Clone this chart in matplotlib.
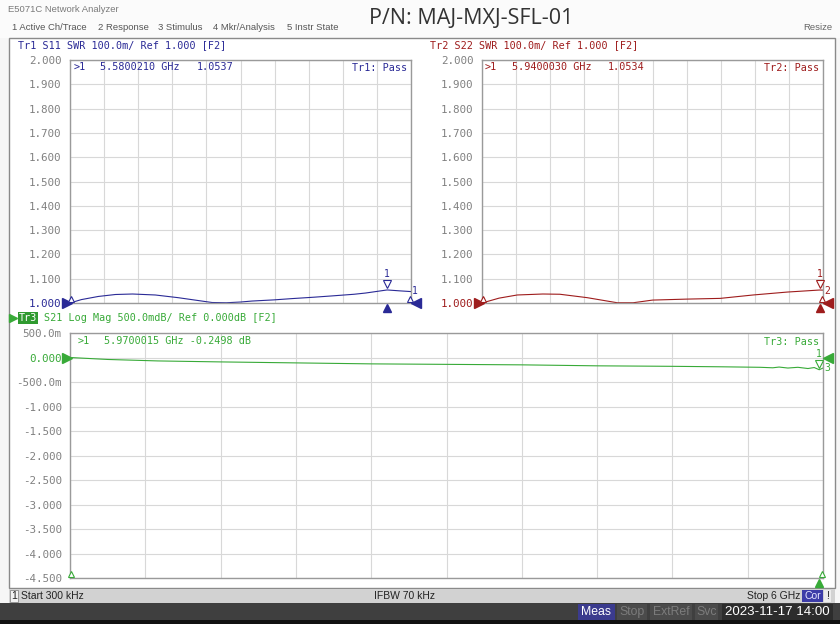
"""
E5071C network analyzer screen: S11 / S22 SWR and S21 log-mag traces
"""

import matplotlib

matplotlib.use('Agg')

import matplotlib.pyplot as plt
import numpy as np
from matplotlib.patches import Rectangle
from matplotlib.transforms import offset_copy

# --- trace data (frequency in GHz) ---
s11_freq = [0.0003, 0.2, 0.5, 0.8, 1.1, 1.5, 1.9, 2.2, 2.5, 2.75, 3.0, 3.2,
            3.6, 3.9, 4.3, 4.6, 5.0, 5.2, 5.58, 5.8, 6.0]
s11_swr = [1.000, 1.014, 1.027, 1.035, 1.037, 1.033, 1.022, 1.012, 1.002, 1.001,
           1.004, 1.008, 1.013, 1.018, 1.024, 1.029, 1.036, 1.041, 1.0537, 1.050, 1.047]

s22_freq = [0.0003, 0.3, 0.62, 1.07, 1.37, 1.85, 2.38, 2.66, 3.0, 3.6, 4.19,
            4.77, 5.37, 5.94, 6.0]
s22_swr = [1.000, 1.020, 1.033, 1.037, 1.036, 1.022, 1.001, 1.001, 1.012, 1.016,
           1.019, 1.033, 1.045, 1.0534, 1.053]

s21_freq = [0.0003, 0.3, 0.7, 1.2, 1.8, 2.4, 3.0, 3.6, 4.2, 4.8, 5.2, 5.5, 5.6,
            5.65, 5.72, 5.8, 5.88, 5.93, 5.97, 6.0]
s21_db = [0.0, -0.04, -0.07, -0.09, -0.11, -0.13, -0.14, -0.15, -0.17, -0.18,
          -0.19, -0.20, -0.21, -0.195, -0.215, -0.20, -0.225, -0.205, -0.2498, -0.215]

swr_ticks = [2.0, 1.9, 1.8, 1.7, 1.6, 1.5, 1.4, 1.3, 1.2, 1.1, 1.0]
swr_labels = ['2.000', '1.900', '1.800', '1.700', '1.600', '1.500',
              '1.400', '1.300', '1.200', '1.100', '1.000']
db_ticks = [0.5, 0.0, -0.5, -1.0, -1.5, -2.0, -2.5, -3.0, -3.5, -4.0, -4.5]
db_labels = ['500.0m', '0.000', '-500.0m', '-1.000', '-1.500', '-2.000',
             '-2.500', '-3.000', '-3.500', '-4.000', '-4.500']

mk1 = (5.5800210, 1.0537)
mk2 = (5.9400030, 1.0534)
mk3 = (5.9700015, -0.2498)

C1 = '#2a2a96'
C2 = '#9e1c1c'
C3 = '#38aa38'
MONO = 'DejaVu Sans Mono'
UI = 'Liberation Sans'

W, H = 840, 624
fig = plt.figure(figsize=(8.4, 6.24), dpi=100)
fig.patch.set_facecolor('#f6f6f6')

bg = fig.add_axes([0, 0, 1, 1])
bg.set_xlim(0, W)
bg.set_ylim(H, 0)
bg.axis('off')


def px_axes(x0, y0, x1, y1):
    return fig.add_axes([x0 / W, 1 - y1 / H, (x1 - x0) / W, (y1 - y0) / H])


def rect(a, x, y, w, h, fc, ec='none', lw=0.8):
    a.add_patch(Rectangle((x, y), w, h, facecolor=fc, edgecolor=ec, linewidth=lw))


def txt(a, x, y, s, color='#555555', size=7, family=UI, ha='left', **kw):
    a.text(x, y, s, color=color, fontsize=size, family=family, ha=ha, va='center', **kw)


# header
rect(bg, 0, 0, W, 38, '#fbfbfb')
txt(bg, 8, 9, 'E5071C Network Analyzer', color='#7a7a7a', size=6.8)
for x, s in [(12, '1 Active Ch/Trace'), (98, '2 Response'), (158, '3 Stimulus'),
             (213, '4 Mkr/Analysis'), (287, '5 Instr State')]:
    txt(bg, x, 27, s, color='#555555', size=6.8)
txt(bg, 369, 19, 'P/N: MAJ-MXJ-SFL-01', color='#333333', size=15.5, family='Open Sans')
txt(bg, 832, 28, 'Resize', color='#666666', size=6.8, ha='right')

# frame of the measurement area
rect(bg, 9, 38, 826, 550, 'white', ec='#8a8a8a', lw=1.0)

# status bar
rect(bg, 9, 589, 826, 14, '#d2d2d2')
rect(bg, 10, 590, 8, 12, '#f2f2f2', ec='#8a8a8a', lw=0.6)
txt(bg, 14, 596, '1', color='#222222', size=7.5, ha='center')
txt(bg, 21, 596, 'Start 300 kHz', color='#222222', size=7.5)
txt(bg, 405, 596, 'IFBW 70 kHz', color='#222222', size=7.5, ha='center')
txt(bg, 800, 596, 'Stop 6 GHz', color='#222222', size=7.5, ha='right')
rect(bg, 802, 590, 21, 12, '#3c3ca8')
txt(bg, 812.5, 596, 'Cor', color='#e6e6ff', size=7.5, ha='center')
rect(bg, 824, 590, 7, 12, '#ececec')
txt(bg, 827.5, 596, '!', color='#222222', size=7.5, ha='center')

# bottom bar
rect(bg, 0, 603, W, 21, '#3f3f3f')
rect(bg, 0, 620, W, 4, '#111111')
for x0, x1, s, fc, tc in [(578, 615, 'Meas', '#3b3b8e', 'white'),
                          (617, 647, 'Stop', '#4b4b4b', '#7c7c7c'),
                          (650, 692, 'ExtRef', '#4b4b4b', '#7c7c7c'),
                          (695, 718, 'Svc', '#4b4b4b', '#7c7c7c')]:
    rect(bg, x0, 604, x1 - x0, 16, fc)
    txt(bg, (x0 + x1) / 2, 612, s, color=tc, size=8.8, ha='center')
rect(bg, 722, 604, 111, 16, '#2c2c2c')
txt(bg, 777, 612, '2023-11-17 14:00', color='white', size=9.6, ha='center')

# trace titles
txt(bg, 18, 45, 'Tr1 S11 SWR 100.0m/ Ref 1.000 [F2]', color=C1, size=7.3, family=MONO)
txt(bg, 430, 45, 'Tr2 S22 SWR 100.0m/ Ref 1.000 [F2]', color=C2, size=7.3, family=MONO)
bg.plot(13, 318, marker='>', ms=6, color=C3)
rect(bg, 18, 312, 20, 12, '#2f9a2f')
txt(bg, 28, 318, 'Tr3', color='white', size=7.3, family=MONO, ha='center')
txt(bg, 44, 318, 'S21 Log Mag 500.0mdB/ Ref 0.000dB [F2]', color=C3, size=7.3, family=MONO)


def setup(ax, ylim, ticks, labels, ref, color):
    ax.set_facecolor('white')
    ax.set_xlim(0, 6)
    ax.set_ylim(*ylim)
    ax.set_xticks(np.linspace(0, 6, 11))
    ax.set_yticks(ticks)
    ax.set_yticklabels(labels, family=MONO, fontsize=7.8, color='#808080')
    for lab, t in zip(ax.get_yticklabels(), ticks):
        if abs(t - ref) < 1e-9:
            lab.set_color(color)
    ax.tick_params(length=0, labelbottom=False, pad=6)
    ax.grid(color='#d8d8d8', lw=0.8)
    for sp in ax.spines.values():
        sp.set_color('#9a9a9a')
        sp.set_linewidth(1.0)


def off(ax, dx, dy):
    return offset_copy(ax.transData, fig=fig, x=dx, y=dy, units='dots')


def edge_marks(ax, color, ref, mk, ymin, tr_lab, lab_dy):
    ax.plot(0.0003, ref, marker='>', ms=7, color=color, clip_on=False,
            transform=off(ax, -3, 0), zorder=6)
    ax.plot(0.0003, ref if ymin is None else ymin, marker='^', ms=4.5, mfc='white',
            mec=color, mew=0.8, clip_on=False, transform=off(ax, 1, 4), zorder=6)
    ax.plot(6, ref, marker='<', ms=7, color=color, clip_on=False,
            transform=off(ax, 5, 0), zorder=6)
    ax.text(6, ref, tr_lab, color=color, fontsize=7, family=MONO, ha='center',
            va='center', transform=off(ax, 4, lab_dy), clip_on=False)
    # active marker
    ax.plot(*mk, marker='v', ms=6, mfc='white', mec=color, mew=0.8, clip_on=False,
            transform=off(ax, 0, 6), zorder=6)
    ax.text(*mk, '1', color=color, fontsize=7, family=MONO, ha='center', va='center',
            transform=off(ax, 0, 16), clip_on=False)


ax1 = px_axes(70, 60, 411, 303)
setup(ax1, (1.0, 2.0), swr_ticks, swr_labels, 1.0, C1)
ax1.plot(s11_freq, s11_swr, color=C1, lw=0.8, clip_on=False)
edge_marks(ax1, C1, 1.0, mk1, None, '1', 12)
ax1.plot(6, 1.0, marker='^', ms=4.5, mfc='white', mec=C1, mew=0.8, clip_on=False,
         transform=off(ax1, -1, 4), zorder=6)
ax1.plot(mk1[0], 1.0, marker='^', ms=6, color=C1, clip_on=False,
         transform=off(ax1, 0, -5), zorder=6)

ax2 = px_axes(482, 60, 823, 303)
setup(ax2, (1.0, 2.0), swr_ticks, swr_labels, 1.0, C2)
ax2.plot(s22_freq, s22_swr, color=C2, lw=0.8, clip_on=False)
edge_marks(ax2, C2, 1.0, mk2, None, '2', 12)
ax2.plot(6, 1.0, marker='^', ms=4.5, mfc='white', mec=C2, mew=0.8, clip_on=False,
         transform=off(ax2, -1, 4), zorder=6)
ax2.plot(mk2[0], 1.0, marker='^', ms=6, color=C2, clip_on=False,
         transform=off(ax2, 0, -5), zorder=6)

ax3 = px_axes(70, 333, 823, 578)
setup(ax3, (-4.5, 0.5), db_ticks, db_labels, 0.0, C3)
ax3.plot(s21_freq, s21_db, color=C3, lw=0.8, clip_on=False)
edge_marks(ax3, C3, 0.0, mk3, -4.5, '3', -10)
ax3.plot(6, -4.5, marker='^', ms=4.5, mfc='white', mec=C3, mew=0.8, clip_on=False,
         transform=off(ax3, -1, 4), zorder=6)
ax3.plot(mk3[0], -4.5, marker='^', ms=6, color=C3, clip_on=False,
         transform=off(ax3, 0, -5), zorder=6)

# marker readouts on top of the plots
top = fig.add_axes([0, 0, 1, 1])
top.set_xlim(0, W)
top.set_ylim(H, 0)
top.axis('off')
top.patch.set_alpha(0)

for x, y, s, c in [(74, 67, '>1', C1), (100, 67, '5.5800210 GHz', C1), (197, 67, '1.0537', C1),
                   (485, 67, '>1', C2), (512, 67, '5.9400030 GHz', C2), (608, 67, '1.0534', C2),
                   (78, 341, '>1', C3), (104, 341, '5.9700015 GHz -0.2498 dB', C3)]:
    txt(top, x, y, s, color=c, size=7.3, family=MONO)
txt(top, 407, 68, 'Tr1: Pass', color=C1, size=7.3, family=MONO, ha='right')
txt(top, 819, 68, 'Tr2: Pass', color=C2, size=7.3, family=MONO, ha='right')
txt(top, 819, 342, 'Tr3: Pass', color=C3, size=7.3, family=MONO, ha='right')

fig.savefig('out.png', dpi=100, facecolor=fig.get_facecolor())
